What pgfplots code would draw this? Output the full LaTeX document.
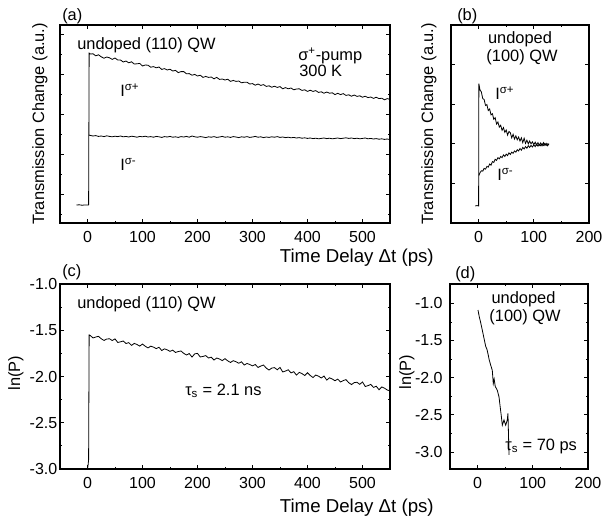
\documentclass[border=0pt]{standalone}
\usepackage{pgfplots}
\pgfplotsset{compat=1.18}
\usepackage{fontspec}
\setmainfont{Liberation Sans}

\pgfplotsset{
  panel/.style={
    scale only axis, anchor=south west,
    axis line style={line width=0.8pt},
    every tick/.append style={black, line width=0.6pt},
    major tick length=3pt, minor tick length=1.8pt,
    tick align=inside,
    tick label style={font=\fontsize{12}{14}\selectfont},
    /pgf/number format/assume math mode=true,
    xticklabel style={yshift=-2.5pt},
    minor x tick num=1,
  },
  trace/.style={black, line width=0.6pt, no marks},
  lnfmt/.style={yticklabel style={/pgf/number format/fixed, /pgf/number format/fixed zerofill, /pgf/number format/precision=1}},
}

\begin{document}
\begin{tikzpicture}
\useasboundingbox (0,0) rectangle (452.25pt,-388.5pt);

% (a) transmission change, (110) QW
\begin{axis}[panel, at={(45pt,-167.25pt)}, width=247.5pt, height=148.5pt,
  xmin=-50, xmax=550, xtick={0,100,...,500},
  ymin=-0.45, ymax=9.45, ytick={1,3,5,7,9}, minor ytick={0,2,4,6,8}, yticklabels={}]
\addplot[trace] coordinates {
(-20,0.45) (-15,0.46) (-10,0.44) (-5,0.45) (0,0.45) (2,0.45) (3,8.05)
(5,8.00) (10,8.01) (15,7.91) (20,7.96) (25,7.86) (30,7.79) (35,7.85) (40,7.81) (45,7.73) (50,7.80)
(55,7.70) (60,7.70) (65,7.60) (70,7.65) (75,7.56) (80,7.61) (85,7.50) (90,7.51) (95,7.53) (100,7.40)
(105,7.45) (110,7.44) (115,7.34) (120,7.37) (125,7.31) (130,7.35) (135,7.23) (140,7.27) (145,7.20) (150,7.24)
(155,7.15) (160,7.18) (165,7.07) (170,7.12) (175,7.12) (180,7.01) (185,7.02) (190,6.94) (195,6.98) (200,6.90)
(205,6.94) (210,6.83) (215,6.88) (220,6.83) (225,6.85) (230,6.76) (235,6.83) (240,6.73) (245,6.75) (250,6.70)
(255,6.74) (260,6.63) (265,6.68) (270,6.63) (275,6.65) (280,6.56) (285,6.59) (290,6.59) (295,6.50) (300,6.52)
(305,6.44) (310,6.50) (315,6.43) (320,6.47) (325,6.38) (330,6.41) (335,6.34) (340,6.39) (345,6.33) (350,6.37)
(355,6.26) (360,6.32) (365,6.26) (370,6.30) (375,6.21) (380,6.25) (385,6.26) (390,6.18) (395,6.21) (400,6.13)
(405,6.19) (410,6.13) (415,6.17) (420,6.08) (425,6.11) (430,6.04) (435,6.10) (440,6.04) (445,6.06) (450,5.97)
(455,6.04) (460,5.97) (465,6.02) (470,5.93) (475,5.96) (480,5.89) (485,5.95) (490,5.88) (495,5.91) (500,5.84)
(505,5.89) (510,5.82) (515,5.85) (520,5.78) (525,5.84) (530,5.77) (535,5.79) (540,5.71) (545,5.77) (550,5.73)
};
\addplot[trace] coordinates {
(2.5,3.95) (5,3.93) (10,3.90) (15,3.92) (20,3.88) (25,3.90) (30,3.87) (35,3.91) (40,3.88) (45,3.86) (50,3.89)
(55,3.87) (60,3.90) (65,3.86) (70,3.88) (75,3.85) (80,3.89) (85,3.87) (90,3.84) (95,3.88) (100,3.86)
(105,3.89) (110,3.85) (115,3.87) (120,3.84) (125,3.88) (130,3.86) (135,3.83) (140,3.87) (145,3.85) (150,3.88)
(155,3.84) (160,3.86) (165,3.83) (170,3.87) (175,3.85) (180,3.88) (185,3.84) (190,3.90) (195,3.86) (200,3.84)
(205,3.87) (210,3.85) (215,3.82) (220,3.86) (225,3.84) (230,3.87) (235,3.83) (240,3.85) (245,3.88) (250,3.84)
(255,3.86) (260,3.83) (265,3.87) (270,3.85) (275,3.82) (280,3.86) (285,3.84) (290,3.87) (295,3.83) (300,3.85)
(305,3.88) (310,3.84) (315,3.86) (320,3.82) (325,3.85) (330,3.83) (335,3.86) (340,3.84) (345,3.87) (350,3.83)
(355,3.85) (360,3.82) (365,3.84) (370,3.81) (375,3.83) (380,3.80) (385,3.82) (390,3.79) (395,3.81) (400,3.78)
(405,3.80) (410,3.77) (415,3.79) (420,3.76) (425,3.78) (430,3.80) (435,3.77) (440,3.79) (445,3.76) (450,3.78)
(455,3.80) (460,3.77) (465,3.79) (470,3.81) (475,3.78) (480,3.80) (485,3.77) (490,3.79) (495,3.76) (500,3.78)
(505,3.80) (510,3.76) (515,3.78) (520,3.75) (525,3.77) (530,3.74) (535,3.76) (540,3.73) (545,3.75) (550,3.72)
};
\end{axis}

% (b) transmission change, (100) QW
\begin{axis}[panel, at={(338.25pt,-167.25pt)}, width=103.5pt, height=148.5pt,
  xmin=-50, xmax=200, xtick={0,100,200},
  ymin=0, ymax=5, ytick={1,2,3,4}, yticklabels={}]
\addplot[trace] coordinates {
(-6,0.43) (-3,0.44) (0,0.43) (0.5,3.52) (2.5,3.36) (5,3.31) (7.5,3.14) (10,3.12) (12.5,2.97) (15,2.99)
(17.5,2.84) (20,2.88) (22.5,2.73) (25,2.76) (27.5,2.62) (30,2.66) (32.5,2.50) (35,2.55) (37.5,2.42) (40,2.47)
(42.5,2.34) (45,2.41) (47.5,2.29) (50,2.35) (52.5,2.22) (55,2.31) (57.5,2.28) (60,2.15) (62.5,2.24) (65,2.12)
(67.5,2.20) (70,2.10) (72.5,2.17) (75,2.07) (77.5,2.15) (80,2.03) (82.5,2.14) (85,2.01) (87.5,2.09) (90,2.00)
(92.5,2.07) (95,2.00) (97.5,2.05) (100,1.98) (102.5,2.04) (105,1.97) (107.5,2.03) (110,1.96) (112.5,2.02) (115,1.95)
(117.5,2.03) (120,1.96) (122.5,2.01) (125,1.95) (127.5,2.00)
};
\addplot[trace] coordinates {
(0.5,1.20) (2.5,1.27) (5,1.32) (7.5,1.31) (10,1.38) (12.5,1.36) (15,1.43) (17.5,1.41) (20,1.49) (22.5,1.46)
(25,1.55) (27.5,1.53) (30,1.61) (32.5,1.58) (35,1.65) (37.5,1.62) (40,1.68) (42.5,1.65) (45,1.72) (47.5,1.68)
(50,1.74) (52.5,1.70) (55,1.77) (57.5,1.73) (60,1.79) (62.5,1.76) (65,1.82) (67.5,1.79) (70,1.85) (72.5,1.82)
(75,1.88) (77.5,1.84) (80,1.91) (82.5,1.87) (85,1.93) (87.5,1.89) (90,1.95) (92.5,1.91) (95,1.96) (97.5,1.92)
(100,1.97) (102.5,1.93) (105,1.99) (107.5,1.94) (110,1.99) (112.5,1.95) (115,2.00) (117.5,1.96) (120,2.01) (122.5,1.96)
(125,2.00) (127.5,1.99)
};
\end{axis}

% (c) ln(P), (110) QW
\begin{axis}[panel, lnfmt, at={(45pt,-351.75pt)}, width=247.5pt, height=138.75pt,
  xmin=-50, xmax=550, xtick={0,100,...,500},
  ymin=-3, ymax=-1, ytick={-3,-2.5,...,-1}, minor y tick num=1,
  yticklabel style={xshift=1.5pt}]
\addplot[trace] coordinates {
(0,-3.00) (1,-2.96) (2,-2.90) (3,-1.55)
(5,-1.557) (10,-1.583) (15,-1.573) (20,-1.566) (25,-1.592) (30,-1.610) (35,-1.595) (40,-1.592) (45,-1.611) (50,-1.593)
(55,-1.632) (60,-1.625) (65,-1.616) (70,-1.643) (75,-1.634) (80,-1.664) (85,-1.642) (90,-1.654) (95,-1.671) (100,-1.649)
(105,-1.673) (110,-1.691) (115,-1.672) (120,-1.682) (125,-1.699) (130,-1.684) (135,-1.719) (140,-1.701) (145,-1.712) (150,-1.728)
(155,-1.715) (160,-1.740) (165,-1.730) (170,-1.724) (175,-1.750) (180,-1.767) (185,-1.752) (190,-1.790) (195,-1.755) (200,-1.750)
(205,-1.789) (210,-1.783) (215,-1.774) (220,-1.800) (225,-1.791) (230,-1.822) (235,-1.800) (240,-1.811) (245,-1.828) (250,-1.807)
(255,-1.831) (260,-1.848) (265,-1.829) (270,-1.840) (275,-1.857) (280,-1.841) (285,-1.876) (290,-1.859) (295,-1.870) (300,-1.885)
(305,-1.870) (310,-1.902) (315,-1.887) (320,-1.876) (325,-1.909) (330,-1.930) (335,-1.909) (340,-1.904) (345,-1.927) (350,-1.902)
(355,-1.951) (360,-1.941) (365,-1.927) (370,-1.961) (375,-1.948) (380,-1.985) (385,-1.955) (390,-1.969) (395,-1.989) (400,-1.959)
(405,-1.989) (410,-2.011) (415,-1.984) (420,-1.996) (425,-2.016) (430,-1.995) (435,-2.039) (440,-2.014) (445,-2.027) (450,-2.046)
(455,-2.028) (460,-2.059) (465,-2.044) (470,-2.034) (475,-2.067) (480,-2.087) (485,-2.066) (490,-2.062) (495,-2.085) (500,-2.059)
(505,-2.108) (510,-2.099) (515,-2.085) (520,-2.118) (525,-2.105) (530,-2.143) (535,-2.113) (540,-2.126) (545,-2.146) (550,-2.155)
};
\end{axis}

% (d) ln(P), (100) QW
\begin{axis}[panel, lnfmt, at={(337.5pt,-351.75pt)}, width=103.5pt, height=138.75pt,
  xmin=-50, xmax=200, xtick={0,100,200},
  ymin=-3.23, ymax=-0.74, ytick={-3,-2.5,...,-1}, minor y tick num=1,
  yticklabel style={xshift=-2pt}]
\addplot[trace] coordinates {
(0.7,-1.09) (3,-1.18) (5,-1.24) (8.5,-1.36) (11,-1.45) (14.7,-1.58) (17,-1.62) (19.4,-1.70) (21,-1.76)
(22.5,-1.80) (24,-1.84) (26.6,-1.90) (28.4,-2.08) (30,-2.02) (32,-2.12) (35.7,-2.17) (38.8,-2.26) (41,-2.40)
(43,-2.52) (44.8,-2.64) (47.8,-2.57) (50.9,-2.64) (53.8,-2.57) (55,-2.48) (55.6,-2.66) (56.9,-3.04)
};
\end{axis}

\begin{scope}[x=0.75pt, y=-0.75pt, font=\fontsize{12.3}{14}\selectfont]
% panel letters
\node[anchor=base west, inner sep=0] at (62,20) {(a)};
\node[anchor=base west, inner sep=0] at (457,20) {(b)};
\node[anchor=base west, inner sep=0] at (62,276) {(c)};
\node[anchor=base west, inner sep=0] at (455,278) {(d)};
% annotations (a)
\node[anchor=base west, inner sep=0] at (77,49) {undoped (110) QW};
\node[anchor=base west, inner sep=0] at (298,60) {σ\textsuperscript{+}-pump};
\node[anchor=base west, inner sep=0] at (299,76) {300 K};
\node[anchor=base west, inner sep=0] at (120,96) {I\textsuperscript{σ+}};
\node[anchor=base west, inner sep=0] at (120,170) {I\textsuperscript{σ-}};
% annotations (b)
\node[anchor=base, inner sep=0] at (520,43) {undoped};
\node[anchor=base, inner sep=0] at (522,61.5) {(100) QW};
\node[anchor=base west, inner sep=0] at (495,99) {I\textsuperscript{σ+}};
\node[anchor=base west, inner sep=0] at (497,180) {I\textsuperscript{σ-}};
% annotations (c)
\node[anchor=base west, inner sep=0] at (77,308) {undoped (110) QW};
\node[anchor=base west, inner sep=0] at (185,395) {τ\textsubscript{s} = 2.1 ns};
% annotations (d)
\node[anchor=base, inner sep=0] at (523.5,303) {undoped};
\node[anchor=base, inner sep=0] at (525,321.5) {(100) QW};
\node[anchor=base west, inner sep=0] at (505,450) {τ\textsubscript{s} = 70 ps};
% axis labels
\node[rotate=90, anchor=base, inner sep=0] at (44,124) {Transmission Change (a.u.)};
\node[rotate=90, anchor=base, inner sep=0] at (433,124) {Transmission Change (a.u.)};
\node[rotate=90, anchor=base, inner sep=0] at (20,373) {ln(P)};
\node[rotate=90, anchor=base, inner sep=0] at (411,372) {ln(P)};
\node[anchor=base east, inner sep=0, font=\fontsize{14}{16}\selectfont] at (434,262) {Time Delay Δt (ps)};
\node[anchor=base east, inner sep=0, font=\fontsize{14}{16}\selectfont] at (434,512) {Time Delay Δt (ps)};
\end{scope}
\end{tikzpicture}
\end{document}
